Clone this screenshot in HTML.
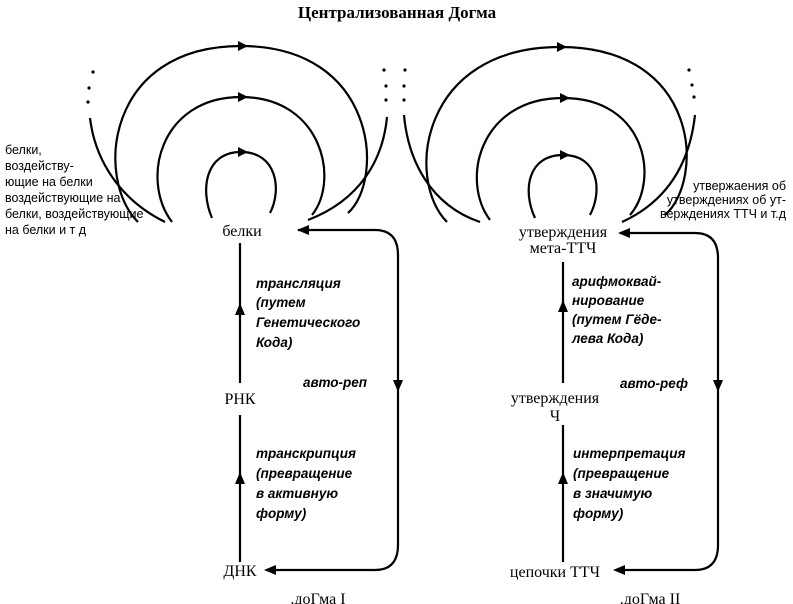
<!DOCTYPE html>
<html><head><meta charset="utf-8"><style>
body{margin:0;background:#fff}
svg{display:block}
text{font-family:"Liberation Serif","DejaVu Serif",serif;fill:#000}
.n{font-size:16px}
.i{font-size:13.5px;font-style:italic;font-weight:bold;font-family:"Liberation Sans",sans-serif}
.s{font-size:12.5px;font-family:"Liberation Sans",sans-serif}
</style></head><body>
<svg width="793" height="604" viewBox="0 0 793 604" xmlns="http://www.w3.org/2000/svg">
<text x="397" y="18" text-anchor="middle" style="font-size:17px;font-weight:bold">Централизованная Догма</text>
<g fill="none" stroke="#000" stroke-width="2.2">
<path d="M212,218 C200,190 205,152 241,152 C277,152 282,190 270,213"/>
<path d="M172,222 C140,180 160,97 241,97 C322,97 340,180 312,215"/>
<path d="M138,222 C95,180 105,46 241,46 C377,46 385,180 348,213"/>
<path d="M90,118 C95,160 120,200 165,222"/>
<path d="M387,117 C383,160 360,200 308,220"/>
<path d="M535,218 C522,190 528,155 563,155 C598,155 603,190 590,215"/>
<path d="M490,220 C460,180 480,98 563,98 C646,98 660,180 630,215"/>
<path d="M447,222 C405,180 420,47 560,47 C700,47 705,180 665,215"/>
<path d="M404,115 C408,160 430,205 480,222"/>
<path d="M695,115 C690,160 670,200 622,222"/>
<path d="M240,243 V383"/><path d="M240,415 V562"/>
<path d="M563,262 V383"/><path d="M563,425 V562"/>
<path d="M298,230 H375 Q398,230 398,255 V545 Q398,570 375,570 H268"/>
<path d="M620,233 H695 Q718,233 718,258 V545 Q718,570 695,570 H618"/>
</g>
<g fill="#000">
<path d="M248,152 l-10,-5 v10z"/><path d="M248,97 l-10,-5 v10z"/><path d="M248,46 l-10,-5 v10z"/>
<path d="M570,155 l-10,-5 v10z"/><path d="M570,98 l-10,-5 v10z"/><path d="M567,47 l-10,-5 v10z"/>
<path d="M240,303 l-5,12 h10z"/><path d="M240,472 l-5,12 h10z"/>
<path d="M563,300 l-5,12 h10z"/><path d="M563,472 l-5,12 h10z"/>
<path d="M398,392 l-5,-12 h10z"/><path d="M718,392 l-5,-12 h10z"/>
<path d="M297,230 l12,-5 v10z"/><path d="M618,233 l12,-5 v10z"/>
<path d="M264,570 l12,-5 v10z"/><path d="M613,570 l12,-5 v10z"/>
<circle cx="93" cy="72" r="1.6"/><circle cx="89" cy="88" r="1.6"/><circle cx="88" cy="102" r="1.6"/>
<circle cx="384" cy="70" r="1.6"/><circle cx="386" cy="86" r="1.6"/><circle cx="386" cy="100" r="1.6"/>
<circle cx="405" cy="70" r="1.6"/><circle cx="404" cy="86" r="1.6"/><circle cx="404" cy="100" r="1.6"/>
<circle cx="689" cy="70" r="1.6"/><circle cx="692" cy="85" r="1.6"/><circle cx="694" cy="97" r="1.6"/>
</g>
<text class="s" x="5" y="154">белки,</text>
<text class="s" x="5" y="170">воздейству-</text>
<text class="s" x="5" y="186">ющие на белки</text>
<text class="s" x="5" y="202">воздействующие на</text>
<text class="s" x="5" y="218">белки, воздействующие</text>
<text class="s" x="5" y="234">на белки и т д</text>
<text class="s" x="786" y="190" text-anchor="end">утвержаения об</text>
<text class="s" x="786" y="204" text-anchor="end">утверждениях об ут-</text>
<text class="s" x="786" y="218" text-anchor="end">верждениях ТТЧ и т.д</text>
<text class="n" x="242" y="236" text-anchor="middle">белки</text>
<text class="n" x="240" y="404" text-anchor="middle">РНК</text>
<text class="n" x="240" y="576" text-anchor="middle">ДНК</text>
<text class="n" x="318" y="604" text-anchor="middle">.доГма I</text>
<text class="n" x="563" y="237" text-anchor="middle">утверждения</text>
<text class="n" x="563" y="253" text-anchor="middle">мета-ТТЧ</text>
<text class="n" x="555" y="403" text-anchor="middle">утверждения</text>
<text class="n" x="555" y="421" text-anchor="middle">Ч</text>
<text class="n" x="555" y="577" text-anchor="middle">цепочки ТТЧ</text>
<text class="n" x="650" y="604" text-anchor="middle">.доГма II</text>
<text class="i" x="256" y="288">трансляция</text>
<text class="i" x="256" y="307">(путем</text>
<text class="i" x="256" y="327">Генетического</text>
<text class="i" x="256" y="347">Кода)</text>
<text class="i" x="303" y="387">авто-реп</text>
<text class="i" x="256" y="458">транскрипция</text>
<text class="i" x="256" y="478">(превращение</text>
<text class="i" x="256" y="498">в активную</text>
<text class="i" x="256" y="518">форму)</text>
<text class="i" x="572" y="286">арифмоквай-</text>
<text class="i" x="572" y="305">нирование</text>
<text class="i" x="572" y="324">(путем Гёде-</text>
<text class="i" x="572" y="343">лева Кода)</text>
<text class="i" x="620" y="388">авто-реф</text>
<text class="i" x="573" y="458">интерпретация</text>
<text class="i" x="573" y="478">(превращение</text>
<text class="i" x="573" y="498">в значимую</text>
<text class="i" x="573" y="518">форму)</text>
</svg>
</body></html>
